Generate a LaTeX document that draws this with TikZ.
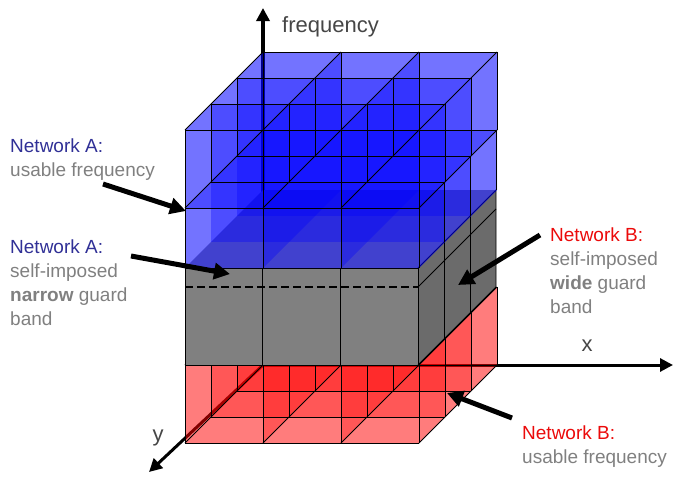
\documentclass[tikz,border=0pt]{standalone}
\usepackage{fontspec}
\setmainfont{Liberation Sans}
\usepackage{tikz}
\usetikzlibrary{arrows.meta,positioning,calc}
\definecolor{netA}{RGB}{48,48,150}
\definecolor{netB}{RGB}{235,10,10}
\definecolor{notegray}{RGB}{128,128,128}
\definecolor{axisgray}{RGB}{70,70,70}
\tikzstyle{cellblue}=[fill=blue,fill opacity=0.33]
\tikzstyle{cellred}=[fill=red,fill opacity=0.3]
\tikzstyle{gridline}=[draw=black,line width=0.9pt]
\tikzstyle{axisline}=[line width=3pt,-{Triangle[length=13pt,width=13pt]}]
\tikzstyle{pointer}=[line width=5pt,-{Triangle[length=16pt,width=16pt]}]
\tikzstyle{note}=[anchor=north west,align=left,inner sep=0pt,text=notegray,font=\fontsize{19}{24}\selectfont]
\tikzstyle{axislabel}=[anchor=base,inner sep=0pt,text=axisgray,font=\fontsize{22}{26}\selectfont]
% translucent planes of a 3x3 block: front bottom y, height, style
\newcommand{\blockfill}[3]{%
  \foreach \j in {0,...,3}
    \path[#3] ({185+26*\j},{#1-26*\j}) rectangle ++(234,-#2);
  \foreach \i in {0,...,3}
    \path[#3] ({185+78*\i},#1) -- ++(78,-78) -- ++(0,-#2) -- ++(-78,78) -- cycle;
  \path[#3] (185,#1) -- ++(234,0) -- ++(78,-78) -- ++(-234,0) -- cycle;
  \path[#3] (185,{#1-#2}) -- ++(234,0) -- ++(78,-78) -- ++(-234,0) -- cycle;
}
% wire frame of the same block
\newcommand{\blockgrid}[2]{%
  \foreach \j in {0,...,3}{
    \draw[gridline] ({185+26*\j},{#1-26*\j}) -- ++(234,0);
    \draw[gridline] ({185+26*\j},{#1-#2-26*\j}) -- ++(234,0);
    \foreach \i in {0,...,3}
      \draw[gridline] ({185+78*\i+26*\j},{#1-26*\j}) -- ++(0,-#2);
  }
  \foreach \i in {0,...,3}{
    \draw[gridline] ({185+78*\i},#1) -- ++(78,-78);
    \draw[gridline] ({185+78*\i},{#1-#2}) -- ++(78,-78);
  }
}
\begin{document}
\begin{tikzpicture}[x=1pt,y=-1pt]
\useasboundingbox (0,0) rectangle (673,479);
% axes
\coordinate (origin) at (263,365);
\coordinate (ftip) at (263,8);
\coordinate (xtip) at (673,365);
\coordinate (ytip) at (149,472);
\draw[axisline,line width=4.5pt] (origin) -- (ftip);
\draw[axisline] (origin) -- (xtip);
\draw[axisline] (origin) -- (ytip);

% Network B, usable
\blockfill{443}{78}{cellred}
\blockgrid{443}{78}

% guard bands
\fill[gray] (185,268) rectangle (418,365);
\fill[black!58] (418,365) -- (496,287) -- (496,190) -- (418,268) -- cycle;
\fill[gray!85] (185,268) -- (418,268) -- (496,190) -- (263,190) -- cycle;
\draw[gridline] (185,268) rectangle (418,365);
\draw[gridline] (262,268) -- (262,365) (340,268) -- (340,365);
\draw[gridline] (418,268) -- (496,190) -- (496,287) -- (418,365);
\draw[gridline] (444,242) -- (444,339) (470,216) -- (470,313);
\draw[gridline] (418,287) -- (496,209);
\draw[line width=1.6pt,dash pattern=on 8pt off 4pt] (185,287) -- (418,287);

% Network A, usable
\blockfill{268}{138}{cellblue}
\path[cellblue] (185,208) -- ++(234,0) -- ++(78,-78) -- ++(-234,0) -- cycle;
\blockgrid{208}{78}
\foreach \i in {0,...,3}
  \draw[gridline] ({185+78*\i},268) -- ++(0,-60);
\foreach \j in {1,2,3}
  \draw[gridline] ({418+26*\j},{268-26*\j}) -- ++(0,-60);

% labels
\node[note] (labAuse) at (10,139) {\textcolor{netA}{Network A:}\\usable frequency};
\node[note] (labAgap) at (10,240) {\textcolor{netA}{Network A:}\\self-imposed\\\textbf{narrow} guard\\band};
\node[note] (labBgap) at (550,228) {\textcolor{netB}{Network B:}\\self-imposed\\\textbf{wide} guard\\band};
\node[note] (labBuse) at (522,426) {\textcolor{netB}{Network B:}\\usable frequency};
\node[axislabel,anchor=base west] (labfreq) at (282,32) {frequency};
\node[axislabel] (labx) at (587,351) {x};
\node[axislabel] (laby) at (158,441) {y};

% pointers
\coordinate (tailAuse) at (103,184);
\coordinate (tipAuse) at (186,211);
\coordinate (tailAgap) at (131,256);
\coordinate (tipAgap) at (230,274);
\coordinate (tailBgap) at (540,235);
\coordinate (tipBgap) at (458,285);
\coordinate (tailBuse) at (512,418);
\coordinate (tipBuse) at (447,393);
\draw[pointer] (tailAuse) -- (tipAuse);
\draw[pointer] (tailAgap) -- (tipAgap);
\draw[pointer] (tailBgap) -- (tipBgap);
\draw[pointer] (tailBuse) -- (tipBuse);
\end{tikzpicture}
\end{document}
